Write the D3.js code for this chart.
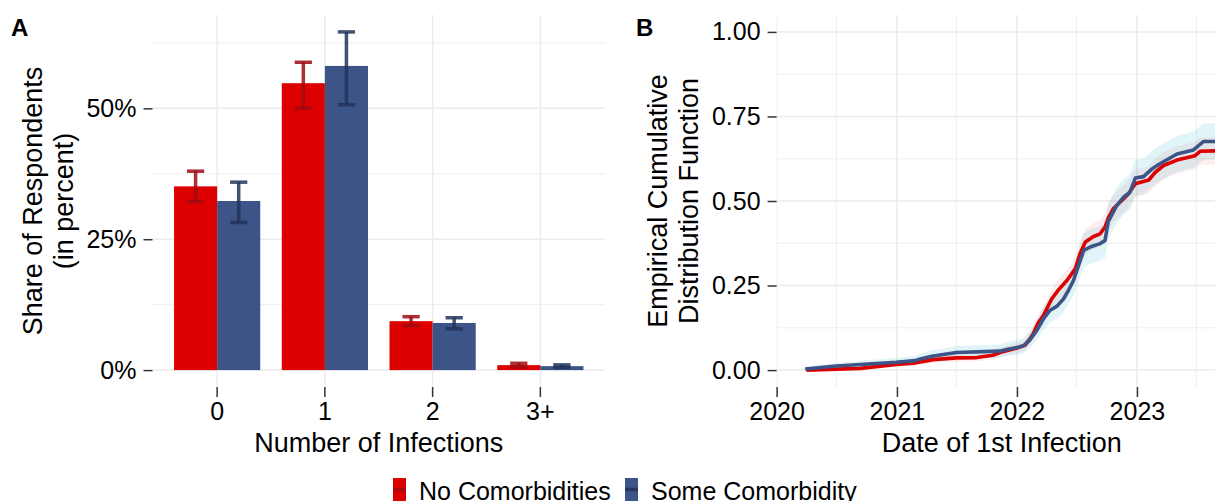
<!DOCTYPE html>
<html>
<head>
<meta charset="utf-8">
<script src="https://cdn.jsdelivr.net/npm/d3@7"></script>
<style>
  html, body { margin: 0; padding: 0; background: #fff; }
  svg text { font-family: "Liberation Sans", Arial, sans-serif; fill: #000; }
</style>
</head>
<body>
<svg id="chart" width="1215" height="501"></svg>
<script>
// --- data: panel A (share of respondents, percent) ---
const categories = ["0", "1", "2", "3+"];
const groups = ["No Comorbidities", "Some Comorbidity"];
const shareNone = [35.1, 54.8, 9.35, 0.95];
const shareNoneLo = [32.2, 50.0, 8.5, 0.6];
const shareNoneHi = [38.0, 58.8, 10.2, 1.3];
const shareSome = [32.3, 58.1, 9.0, 0.75];
const shareSomeLo = [28.2, 50.7, 7.9, 0.5];
const shareSomeHi = [35.9, 64.6, 10.0, 1.0];

// --- data: panel B (ECDF of date of 1st infection) [date, value, lower, upper] ---
const ecdfNone = [
  ["2020-04-01", 0.000, 0.000, 0.004], ["2020-09-11", 0.005, 0.001, 0.010],
  ["2020-12-30", 0.017, 0.010, 0.025], ["2021-02-19", 0.020, 0.012, 0.029],
  ["2021-04-21", 0.031, 0.021, 0.042], ["2021-07-01", 0.036, 0.025, 0.048],
  ["2021-09-01", 0.037, 0.026, 0.049], ["2021-10-20", 0.044, 0.032, 0.057],
  ["2021-11-10", 0.052, 0.039, 0.066], ["2022-01-01", 0.065, 0.050, 0.081],
  ["2022-01-26", 0.074, 0.058, 0.091], ["2022-02-10", 0.093, 0.075, 0.112],
  ["2022-02-20", 0.108, 0.089, 0.128], ["2022-03-07", 0.140, 0.117, 0.164],
  ["2022-03-23", 0.162, 0.137, 0.188], ["2022-04-17", 0.211, 0.183, 0.240],
  ["2022-05-08", 0.238, 0.208, 0.269], ["2022-06-02", 0.265, 0.233, 0.298],
  ["2022-06-28", 0.300, 0.266, 0.335], ["2022-07-12", 0.344, 0.308, 0.381],
  ["2022-07-28", 0.379, 0.342, 0.417], ["2022-08-22", 0.395, 0.357, 0.434],
  ["2022-09-11", 0.403, 0.365, 0.442], ["2022-09-26", 0.423, 0.384, 0.463],
  ["2022-10-06", 0.450, 0.411, 0.490], ["2022-10-21", 0.477, 0.437, 0.518],
  ["2022-11-21", 0.506, 0.466, 0.547], ["2022-12-06", 0.521, 0.481, 0.562],
  ["2022-12-27", 0.551, 0.511, 0.592], ["2023-02-06", 0.562, 0.522, 0.603],
  ["2023-02-26", 0.585, 0.545, 0.626], ["2023-03-23", 0.605, 0.565, 0.646],
  ["2023-05-03", 0.621, 0.581, 0.662], ["2023-06-27", 0.634, 0.594, 0.675],
  ["2023-07-12", 0.647, 0.607, 0.688], ["2023-10-01", 0.649, 0.609, 0.690]
];
const ecdfSome = [
  ["2020-03-28", 0.003, 0.000, 0.010], ["2020-07-01", 0.012, 0.003, 0.022],
  ["2020-12-30", 0.023, 0.011, 0.036], ["2021-02-25", 0.028, 0.015, 0.042],
  ["2021-03-13", 0.033, 0.019, 0.048], ["2021-04-17", 0.041, 0.025, 0.058],
  ["2021-07-01", 0.052, 0.034, 0.071], ["2021-11-10", 0.056, 0.037, 0.076],
  ["2021-12-01", 0.061, 0.041, 0.082], ["2022-01-01", 0.067, 0.046, 0.089],
  ["2022-01-21", 0.072, 0.050, 0.095], ["2022-02-10", 0.090, 0.065, 0.116],
  ["2022-03-03", 0.118, 0.089, 0.148], ["2022-03-23", 0.152, 0.119, 0.186],
  ["2022-04-12", 0.177, 0.141, 0.214], ["2022-05-03", 0.189, 0.152, 0.227],
  ["2022-05-23", 0.211, 0.172, 0.251], ["2022-06-07", 0.236, 0.194, 0.279],
  ["2022-06-22", 0.265, 0.221, 0.310], ["2022-07-06", 0.305, 0.258, 0.353],
  ["2022-07-23", 0.354, 0.304, 0.405], ["2022-08-12", 0.364, 0.314, 0.415],
  ["2022-09-11", 0.374, 0.323, 0.426], ["2022-09-26", 0.383, 0.332, 0.435],
  ["2022-10-06", 0.440, 0.388, 0.493], ["2022-11-01", 0.487, 0.435, 0.540],
  ["2022-11-21", 0.511, 0.459, 0.564], ["2022-12-11", 0.526, 0.474, 0.579],
  ["2022-12-27", 0.568, 0.516, 0.621], ["2023-01-21", 0.572, 0.520, 0.625],
  ["2023-02-16", 0.595, 0.543, 0.648], ["2023-03-08", 0.608, 0.556, 0.661],
  ["2023-05-03", 0.639, 0.586, 0.693], ["2023-06-22", 0.651, 0.598, 0.705],
  ["2023-07-23", 0.676, 0.623, 0.730], ["2023-10-01", 0.676, 0.623, 0.730]
];
const yTicksA = [0, 25, 50];
const yTicksB = [0, 0.25, 0.5, 0.75, 1];
const yearTicks = ["2020-01-01", "2021-01-01", "2022-01-01", "2023-01-01"];

// colours
const fillCol = {"No Comorbidities": "#DC0000", "Some Comorbidity": "#3C5488"};
const errCol = {"No Comorbidities": "#9E0A12", "Some Comorbidity": "#22335A"};
const bandCol = {"No Comorbidities": "#DC0000", "Some Comorbidity": "#4DBBD5"};
const bandOp = {"No Comorbidities": 0.07, "Some Comorbidity": 0.17};
const gridCol = "#EBEBEB";

const svg = d3.select("#chart");
svg.append("rect").attr("width", 1215).attr("height", 501).attr("fill", "#fff");

const plotTop = 15, plotBottom = 387;

// ---------------- Panel A ----------------
const A = {left: 152.5, right: 605};
const barRows = categories.map((c, i) => ({
  cat: c,
  vals: [
    {g: groups[0], v: shareNone[i], lo: shareNoneLo[i], hi: shareNoneHi[i]},
    {g: groups[1], v: shareSome[i], lo: shareSomeLo[i], hi: shareSomeHi[i]}
  ]
}));
const maxA = d3.max(shareNoneHi.concat(shareSomeHi));
const padA = maxA * 0.05;

const xA = d3.scaleBand().domain(categories).range([A.left, A.right])
    .paddingInner(0).paddingOuter(0.1);
const xSub = d3.scaleBand().domain(groups).range([0, xA.bandwidth()])
    .paddingInner(0).paddingOuter(0.25);
const yA = d3.scaleLinear().domain([-padA, maxA + padA]).range([plotBottom, plotTop]);

const gA = svg.append("g");
// grid
const minorA = [12.5, 37.5, 62.5];
gA.selectAll(".minor").data(minorA).join("line")
  .attr("x1", A.left).attr("x2", A.right)
  .attr("y1", d => yA(d)).attr("y2", d => yA(d))
  .attr("stroke", gridCol).attr("stroke-width", 0.8);
gA.selectAll(".majorY").data(yTicksA).join("line")
  .attr("x1", A.left).attr("x2", A.right)
  .attr("y1", d => yA(d)).attr("y2", d => yA(d))
  .attr("stroke", gridCol).attr("stroke-width", 1.5);
gA.selectAll(".majorX").data(categories).join("line")
  .attr("x1", d => xA(d) + xA.bandwidth() / 2).attr("x2", d => xA(d) + xA.bandwidth() / 2)
  .attr("y1", plotTop).attr("y2", plotBottom)
  .attr("stroke", gridCol).attr("stroke-width", 1.5);

// bars
const catG = gA.selectAll(".cat").data(barRows).join("g")
  .attr("transform", d => `translate(${xA(d.cat)},0)`);
catG.selectAll("rect").data(d => d.vals).join("rect")
  .attr("x", d => xSub(d.g))
  .attr("width", xSub.bandwidth())
  .attr("y", d => yA(d.v))
  .attr("height", d => yA(0) - yA(d.v))
  .attr("fill", d => fillCol[d.g]);

// error bars
const capW = xSub.bandwidth() * 0.4;
const eb = catG.selectAll(".eb").data(d => d.vals).join("g")
  .attr("stroke", d => errCol[d.g]).attr("stroke-opacity", 0.85)
  .attr("stroke-width", 3.5);
eb.append("line")
  .attr("x1", d => xSub(d.g) + xSub.bandwidth() / 2).attr("x2", d => xSub(d.g) + xSub.bandwidth() / 2)
  .attr("y1", d => yA(d.lo)).attr("y2", d => yA(d.hi));
eb.append("line")
  .attr("x1", d => xSub(d.g) + xSub.bandwidth() / 2 - capW / 2).attr("x2", d => xSub(d.g) + xSub.bandwidth() / 2 + capW / 2)
  .attr("y1", d => yA(d.hi)).attr("y2", d => yA(d.hi));
eb.append("line")
  .attr("x1", d => xSub(d.g) + xSub.bandwidth() / 2 - capW / 2).attr("x2", d => xSub(d.g) + xSub.bandwidth() / 2 + capW / 2)
  .attr("y1", d => yA(d.lo)).attr("y2", d => yA(d.lo));

// axes
function styleAxis(g) {
  g.select(".domain").remove();
  g.selectAll(".tick line").attr("stroke", "#333").attr("stroke-width", 1.5);
  g.selectAll(".tick text").attr("font-size", 25).attr("fill", "#000")
    .attr("font-family", "'Liberation Sans', Arial, sans-serif");
}
gA.append("g").attr("transform", `translate(${A.left},0)`)
  .call(d3.axisLeft(yA).tickValues(yTicksA).tickFormat(d => d + "%").tickSize(9).tickPadding(7))
  .call(styleAxis);
gA.append("g").attr("transform", `translate(0,${plotBottom})`)
  .call(d3.axisBottom(xA).tickSize(10).tickPadding(5))
  .call(styleAxis);

gA.append("text").attr("x", (A.left + A.right) / 2).attr("y", 452)
  .attr("text-anchor", "middle").attr("font-size", 27).text("Number of Infections");
const ytA = gA.append("text").attr("transform", `translate(0,${(plotTop + plotBottom) / 2}) rotate(-90)`)
  .attr("text-anchor", "middle").attr("font-size", 27);
ytA.append("tspan").attr("x", 0).attr("y", 42).text("Share of Respondents");
ytA.append("tspan").attr("x", 0).attr("y", 73).text("(in percent)");
svg.append("text").attr("x", 11).attr("y", 36).attr("font-size", 24)
  .attr("font-weight", "bold").text("A");

// ---------------- Panel B ----------------
const B = {left: 776.6, right: 1227};
const parse = d3.utcParse("%Y-%m-%d");
const xB = d3.scaleUtc().domain([parse("2020-01-01"), parse("2023-10-02")]).range([B.left, B.right]);
const yB = d3.scaleLinear().domain([-0.05, 1.05]).range([plotBottom, plotTop]);

const gB = svg.append("g");
gB.append("clipPath").attr("id", "clipB").append("rect")
  .attr("x", B.left).attr("y", plotTop).attr("width", B.right - B.left).attr("height", plotBottom - plotTop);

const minorB = [0.125, 0.375, 0.625, 0.875];
const halfYears = ["2020-07-01", "2021-07-01", "2022-07-01", "2023-07-01"].map(parse);
const gridB = gB.append("g").attr("clip-path", "url(#clipB)");
gridB.selectAll(".mh").data(minorB).join("line")
  .attr("x1", B.left).attr("x2", B.right).attr("y1", d => yB(d)).attr("y2", d => yB(d))
  .attr("stroke", gridCol).attr("stroke-width", 0.8);
gridB.selectAll(".mv").data(halfYears).join("line")
  .attr("x1", d => xB(d)).attr("x2", d => xB(d)).attr("y1", plotTop).attr("y2", plotBottom)
  .attr("stroke", gridCol).attr("stroke-width", 0.8);
gridB.selectAll(".Mh").data(yTicksB).join("line")
  .attr("x1", B.left).attr("x2", B.right).attr("y1", d => yB(d)).attr("y2", d => yB(d))
  .attr("stroke", gridCol).attr("stroke-width", 1.5);
gridB.selectAll(".Mv").data(yearTicks.map(parse)).join("line")
  .attr("x1", d => xB(d)).attr("x2", d => xB(d)).attr("y1", plotTop).attr("y2", plotBottom)
  .attr("stroke", gridCol).attr("stroke-width", 1.5);

const series = [
  {g: groups[0], pts: ecdfNone.map(d => ({t: parse(d[0]), v: d[1], lo: d[2], hi: d[3]}))},
  {g: groups[1], pts: ecdfSome.map(d => ({t: parse(d[0]), v: d[1], lo: d[2], hi: d[3]}))}
];
const band = d3.area().curve(d3.curveLinear)
  .x(d => xB(d.t)).y0(d => yB(d.lo)).y1(d => yB(d.hi));
const line = d3.line().curve(d3.curveLinear)
  .x(d => xB(d.t)).y(d => yB(d.v));

const plotB = gB.append("g").attr("clip-path", "url(#clipB)");
plotB.selectAll(".band").data(series).join("path")
  .attr("d", d => band(d.pts))
  .attr("fill", d => bandCol[d.g]).attr("fill-opacity", d => bandOp[d.g]);
plotB.selectAll(".ln").data(series).join("path")
  .attr("d", d => line(d.pts))
  .attr("fill", "none").attr("stroke", d => fillCol[d.g])
  .attr("stroke-width", 3.6).attr("stroke-linejoin", "round");

gB.append("g").attr("transform", `translate(${B.left},0)`)
  .call(d3.axisLeft(yB).tickValues(yTicksB).tickFormat(d3.format(".2f")).tickSize(9).tickPadding(7))
  .call(styleAxis);
gB.append("g").attr("transform", `translate(0,${plotBottom})`)
  .call(d3.axisBottom(xB).tickValues(yearTicks.map(parse)).tickFormat(d3.utcFormat("%Y")).tickSize(10).tickPadding(5))
  .call(styleAxis);

gB.append("text").attr("x", (B.left + B.right) / 2).attr("y", 452)
  .attr("text-anchor", "middle").attr("font-size", 27).text("Date of 1st Infection");
const ytB = gB.append("text").attr("transform", `translate(0,${(plotTop + plotBottom) / 2}) rotate(-90)`)
  .attr("text-anchor", "middle").attr("font-size", 27);
ytB.append("tspan").attr("x", 0).attr("y", 667).text("Empirical Cumulative");
ytB.append("tspan").attr("x", 0).attr("y", 698).text("Distribution Function");
svg.append("text").attr("x", 636).attr("y", 36).attr("font-size", 24)
  .attr("font-weight", "bold").text("B");

// ---------------- Legend ----------------
const legendX = [393, 625];
const leg = svg.append("g").selectAll("g").data(groups).join("g")
  .attr("transform", (d, i) => `translate(${legendX[i]},478)`);
leg.append("rect").attr("width", 13).attr("height", 23).attr("fill", d => fillCol[d]);
leg.append("line").attr("x1", 0).attr("x2", 13).attr("y1", 11.5).attr("y2", 11.5)
  .attr("stroke", d => errCol[d]).attr("stroke-opacity", 0.85).attr("stroke-width", 3.5);
leg.append("text").attr("x", 26).attr("y", 21.5).attr("font-size", 25).text(d => d);
</script>
</body>
</html>
